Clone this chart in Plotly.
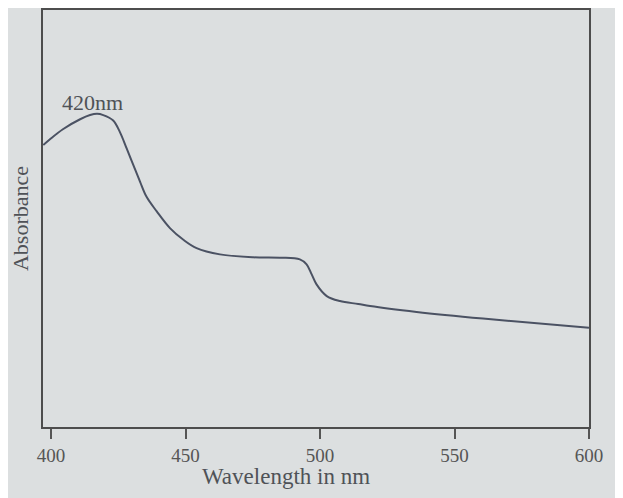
import plotly.graph_objects as go

wavelength = [397.1, 399.6, 404.4, 410.8, 414.5, 417.1, 419.4, 423.1, 425.6, 428.1,
              430.6, 433.1, 435.5, 439.3, 444.2, 449.2, 454.1, 462.8, 475.1, 485.1,
              492.5, 495.0, 496.9, 498.7, 502.5, 507.4, 514.2, 518.6, 535.9, 560.6,
              600.0]
absorbance = [0.676, 0.690, 0.714, 0.738, 0.748, 0.751, 0.748, 0.735, 0.707, 0.668,
              0.628, 0.588, 0.552, 0.517, 0.477, 0.449, 0.429, 0.414, 0.407, 0.406,
              0.402, 0.390, 0.366, 0.342, 0.314, 0.302, 0.295, 0.290, 0.276, 0.260,
              0.238]

tick_values = [400, 450, 500, 550, 600]
tick_labels = ["400", "450", "500", "550", "600"]

peak_label = "420nm"
peak_label_x = 415.5
peak_label_y = 0.778

bg = "#dcdfe0"
ink = "#4f5257"

fig = go.Figure()
fig.add_trace(go.Scatter(
    x=wavelength, y=absorbance, mode="lines",
    line=dict(color="#4b5263", width=2, shape="spline", smoothing=1.0),
    showlegend=False, hoverinfo="skip",
))

fig.add_annotation(x=peak_label_x, y=peak_label_y, xref="x", yref="y",
                   text=peak_label, showarrow=False,
                   font=dict(family="Liberation Serif", size=22, color=ink))

fig.add_annotation(x=0.445, y=-0.083, xref="paper", yref="paper",
                   text="Wavelength in nm", showarrow=False, yanchor="top",
                   font=dict(family="Liberation Serif", size=23, color=ink))

fig.update_layout(
    width=623, height=498,
    margin=dict(l=35, r=42, t=0, b=79),
    paper_bgcolor=bg, plot_bgcolor=bg,
    font=dict(family="Liberation Serif", color=ink),
)
fig.update_xaxes(
    range=[397, 600], tickvals=tick_values, ticktext=tick_labels,
    ticks="outside", ticklen=10, tickwidth=1.5, tickcolor="#555",
    tickfont=dict(size=19, color="#555"),
    showline=True, linecolor="#4d4d4d", linewidth=1.5, mirror=True,
    showgrid=False, zeroline=False,
)
fig.update_yaxes(
    range=[0, 1], showticklabels=False, ticks="",
    showline=True, linecolor="#4d4d4d", linewidth=1.5, mirror=True,
    showgrid=False, zeroline=False,
    title=dict(text="Absorbance", standoff=12,
               font=dict(family="Liberation Serif", size=22, color=ink)),
)

fig.write_html("out.html")
